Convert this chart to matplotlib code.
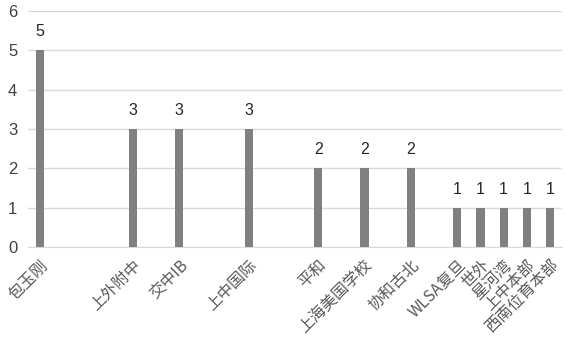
import matplotlib
matplotlib.use('Agg')
import matplotlib.pyplot as plt

plt.rcParams['font.family'] = ['Noto Sans CJK SC', 'DejaVu Sans']

# categories as in the source chart (blank ones are empty slots)
categories = ['包玉刚', '', '', '', '上外附中', '', '交中IB', '', '', '上中国际',
              '', '', '平和', '', '上海美国学校', '', '协和古北', '',
              'WLSA复旦', '世外', '星河湾', '上中本部', '西南位育本部']
values = [5, None, None, None, 3, None, 3, None, None, 3,
          None, None, 2, None, 2, None, 2, None,
          1, 1, 1, 1, 1]
y_ticks = [0, 1, 2, 3, 4, 5, 6]

fig = plt.figure(figsize=(5.67, 3.43), dpi=100)
ax = fig.add_axes([0.050, 0.280, 0.9405, 0.688])

xs = [i for i, v in enumerate(values) if v is not None]
vs = [v for v in values if v is not None]
ax.bar(xs, vs, width=0.35, color='#808080', zorder=3)

for x, v in zip(xs, vs):
    ax.text(x, v + 0.28, str(v), ha='center', va='bottom', fontsize=11.5,
            color='#262626', family='Liberation Sans')

ax.set_xlim(-0.5, len(categories) - 0.5)
ax.set_ylim(0, 6)
ax.set_yticks(y_ticks)
ax.set_yticklabels([str(t) for t in y_ticks], fontsize=12, color='#404040',
                   family='Liberation Sans')
ax.yaxis.grid(True, color='#d9d9d9', linewidth=1)
ax.set_axisbelow(True)

ax.set_xticks(range(len(categories)))
ax.set_xticklabels(categories, rotation=45, ha='right', va='top',
                   rotation_mode='anchor', fontsize=11.5, color='#595959',
                   fontweight='light')
ax.tick_params(axis='both', length=0)
ax.tick_params(axis='x', pad=7)
ax.tick_params(axis='y', pad=8)

for s in ['top', 'right', 'left']:
    ax.spines[s].set_visible(False)
ax.spines['bottom'].set_color('#d9d9d9')

fig.savefig('out.png', dpi=100)
